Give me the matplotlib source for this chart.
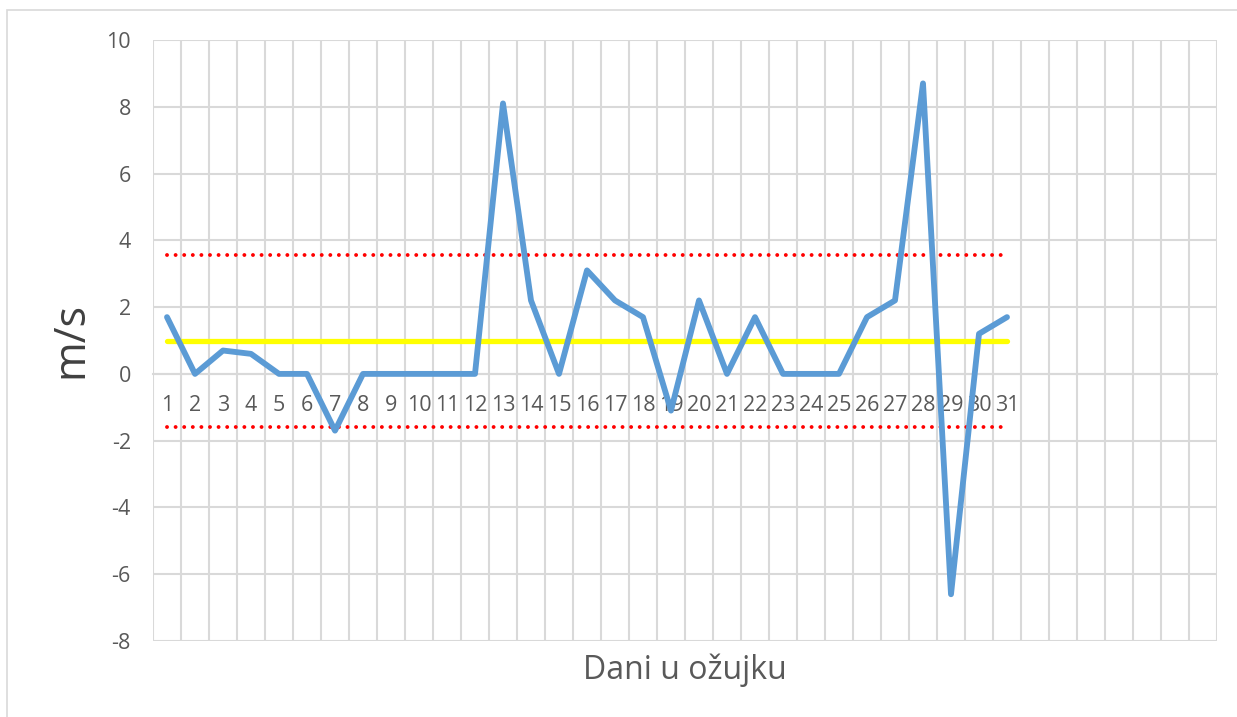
import matplotlib
matplotlib.use("Agg")
import matplotlib.pyplot as plt
from matplotlib.patches import Rectangle
import numpy as np

# ---- data ----
days = [str(d) for d in range(1, 32)]
n_slots = 38  # category axis has 38 slots, only 31 labelled
values = [1.7, 0.0, 0.7, 0.6, 0.0, 0.0, -1.7, 0.0, 0.0, 0.0, 0.0, 0.0, 8.1,
          2.2, 0.0, 3.1, 2.2, 1.7, -1.1, 2.2, 0.0, 1.7, 0.0, 0.0, 0.0, 1.7,
          2.2, 8.7, -6.6, 1.2, 1.7]
mean_val = 0.98
upper_val = 3.56
lower_val = -1.6
y_ticks = [-8, -6, -4, -2, 0, 2, 4, 6, 8, 10]

plt.rcParams['font.family'] = ['Open Sans', 'DejaVu Sans']
W, H = 1237, 717
fig = plt.figure(figsize=(W / 100, H / 100), dpi=100)
fig.patch.set_facecolor('white')

# chart-area border
fig.patches.append(Rectangle((7 / W, -0.01), 1.1, 1 - 10 / H + 0.01,
                             transform=fig.transFigure, fill=False,
                             edgecolor='#d9d9d9', linewidth=1.2))

left, right, top, bottom = 153, 1217, 40, 641
ax = fig.add_axes([left / W, 1 - bottom / H, (right - left) / W, (bottom - top) / H])

x = np.arange(len(values))
grid_c = '#d9d9d9'

ax.set_xlim(-0.5, n_slots - 0.5)
ax.set_ylim(-8, 10)
ax.set_yticks(y_ticks)
ax.set_yticklabels([str(t) for t in y_ticks])

ax.set_xticks(np.arange(len(days)))
ax.set_xticklabels(days)
ax.set_xticks(np.arange(-0.5, n_slots, 1.0), minor=True)

ax.grid(True, axis='y', which='major', color=grid_c, linewidth=1.5, zorder=0)
ax.grid(True, axis='x', which='minor', color=grid_c, linewidth=1.5, zorder=0)
ax.grid(False, axis='x', which='major')

for s in ['top', 'right', 'left']:
    ax.spines[s].set_visible(False)
ax.spines['bottom'].set_position(('data', 0))
ax.spines['bottom'].set_color(grid_c)
ax.spines['bottom'].set_linewidth(1.5)

ax.tick_params(axis='x', which='both', length=0, pad=15, labelsize=15.5, labelcolor='#595959')
ax.tick_params(axis='y', which='both', length=0, pad=16, labelsize=15.5, labelcolor='#595959')

ax.plot(x, values, color='#5B9BD5', linewidth=4.2, solid_joinstyle='round',
        solid_capstyle='round', zorder=4)
ax.plot([x[0], x[-1]], [mean_val, mean_val], color='#FFFF00', linewidth=3.8,
        solid_capstyle='round', zorder=3)
for v in (upper_val, lower_val):
    ax.plot([x[0], x[-1]], [v, v], color='#FF0000', linewidth=2.8,
            linestyle=(0, (0.01, 2.2)), dash_capstyle='round', zorder=3)

ax.set_ylabel('m/s', fontsize=31, color='#404040')
ax.yaxis.set_label_coords((93 - left) / (right - left), 0.5)
fig.text((left + right) / 2 / W, 1 - 670 / H, 'Dani u ožujku', fontsize=23,
         color='#595959', ha='center', va='center')

fig.savefig('out.png', dpi=100, facecolor='white')
